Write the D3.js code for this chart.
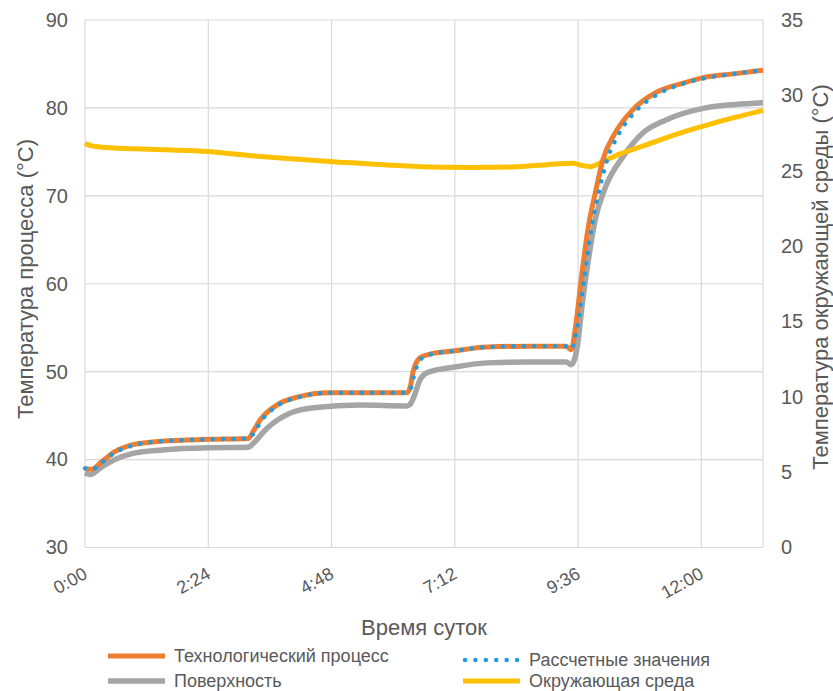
<!DOCTYPE html>
<html>
<head>
<meta charset="utf-8">
<script src="https://cdn.jsdelivr.net/npm/d3@7"></script>
<style>
html,body{margin:0;padding:0;background:#fff;}
text{font-family:"Liberation Sans",Arial,sans-serif;fill:#595959;}
</style>
</head>
<body>
<svg id="chart" width="833" height="691"></svg>
<script>
// ---- data (time in minutes since 0:00) ----
const xTicks = [0, 144, 288, 432, 576, 720];
const xTickLabels = ["0:00", "2:24", "4:48", "7:12", "9:36", "12:00"];
const leftTicks = [30, 40, 50, 60, 70, 80, 90];
const rightTicks = [0, 5, 10, 15, 20, 25, 30, 35];

const processTime = [0, 8, 20, 35, 56, 90, 144, 191, 197, 204.5, 224, 248, 286, 321, 376, 380, 383, 391.5, 403, 430, 470, 520, 562, 568, 573, 580.5, 588, 596, 605, 619, 640, 666, 698, 725, 760, 792];
const processValues = [39.0, 38.9, 39.8, 40.9, 41.7, 42.1, 42.3, 42.4, 43.3, 44.5, 46.2, 47.1, 47.6, 47.6, 47.6, 48.3, 49.9, 51.6, 52.0, 52.35, 52.8, 52.9, 52.9, 52.5, 55.1, 61.2, 66.5, 70.3, 74.1, 77.1, 79.8, 81.7, 82.8, 83.5, 83.9, 84.3];

const calcTime = [0, 8, 20, 35, 56, 90, 144, 191, 199, 206, 226, 250, 286, 321, 376, 381, 385, 393, 405, 430, 470, 520, 562, 568, 575, 584, 592, 600, 610, 624, 645, 670, 700, 725, 760, 792];
const calcValues = [39.0, 38.9, 39.7, 40.8, 41.6, 42.1, 42.3, 42.4, 43.3, 44.4, 46.2, 47.1, 47.6, 47.6, 47.6, 48.2, 49.8, 51.5, 52.0, 52.35, 52.8, 52.9, 52.9, 52.6, 55.0, 61.2, 66.5, 70.3, 74.1, 77.1, 79.8, 81.6, 82.8, 83.4, 83.9, 84.3];

const surfaceTime = [0, 6, 20, 35, 56, 90, 144, 191, 196, 213, 240, 267, 321, 376, 380, 384, 391.5, 400, 430, 470, 520, 562, 568, 575, 580.5, 588, 596, 608, 628, 651, 678, 725, 760, 792];
const surfaceValues = [38.5, 38.3, 39.2, 40.0, 40.7, 41.1, 41.35, 41.4, 41.8, 43.6, 45.3, 45.9, 46.2, 46.1, 46.3, 47.1, 49.1, 49.9, 50.5, 51.0, 51.1, 51.1, 50.8, 52.8, 57.4, 62.7, 67.3, 71.0, 74.4, 77.1, 78.6, 80.0, 80.4, 80.6];

const ambientTime = [0, 8, 17, 60, 142, 193, 240, 290, 392, 450, 500, 540, 570, 580, 590, 605, 622, 655, 695, 734, 792];
const ambientValues = [26.8, 26.65, 26.58, 26.45, 26.27, 26.0, 25.8, 25.6, 25.27, 25.22, 25.25, 25.4, 25.5, 25.35, 25.27, 25.6, 26.05, 26.7, 27.5, 28.15, 29.0];

const seriesNames = ["Технологический процесс", "Рассчетные значения", "Поверхность", "Окружающая среда"];

// ---- layout ----
const svg = d3.select("#chart");
const plot = {left: 85, right: 763, top: 20, bottom: 547.5};

const x = d3.scaleLinear().domain([0, 792]).range([plot.left, plot.right]);
const yL = d3.scaleLinear().domain([30, 90]).range([plot.bottom, plot.top]);
const yR = d3.scaleLinear().domain([0, 35]).range([plot.bottom, plot.top]);

const grid = svg.append("g");
grid.selectAll("line.h").data(leftTicks).join("line")
  .attr("x1", plot.left).attr("x2", plot.right)
  .attr("y1", d => yL(d)).attr("y2", d => yL(d))
  .attr("stroke", "#d9d9d9").attr("stroke-width", 1.2);
grid.selectAll("line.v").data(xTicks.concat([792])).join("line")
  .attr("y1", plot.top).attr("y2", plot.bottom)
  .attr("x1", d => x(d)).attr("x2", d => x(d))
  .attr("stroke", "#d9d9d9").attr("stroke-width", 1.2);

// axes via d3 axis generators, then styled
const axL = svg.append("g").attr("transform", `translate(${plot.left - 17},0)`)
  .call(d3.axisLeft(yL).tickValues(leftTicks).tickSize(0).tickPadding(0));
const axR = svg.append("g").attr("transform", `translate(${plot.right + 18},0)`)
  .call(d3.axisRight(yR).tickValues(rightTicks).tickSize(0).tickPadding(0));
const axB = svg.append("g").attr("transform", `translate(0,${plot.bottom})`)
  .call(d3.axisBottom(x).tickValues(xTicks).tickFormat((d, i) => xTickLabels[i]).tickSize(0));
[axL, axR, axB].forEach(a => { a.select(".domain").remove(); });
axL.selectAll("text").attr("font-size", 20).attr("fill", "#595959").attr("font-family", "Liberation Sans, Arial, sans-serif");
axR.selectAll("text").attr("font-size", 20).attr("fill", "#595959").attr("font-family", "Liberation Sans, Arial, sans-serif");
axB.selectAll("text")
  .attr("font-size", 18).attr("fill", "#595959").attr("font-family", "Liberation Sans, Arial, sans-serif")
  .attr("text-anchor", "end").attr("y", 0).attr("dy", 0)
  .attr("transform", "translate(3,30) rotate(-29)");

// lines
const lineL = d3.line().x(d => x(d[0])).y(d => yL(d[1])).curve(d3.curveMonotoneX);
const lineR = d3.line().x(d => x(d[0])).y(d => yR(d[1])).curve(d3.curveMonotoneX);
const zip = (a, b) => a.map((t, i) => [t, b[i]]);

svg.append("path").datum(zip(surfaceTime, surfaceValues)).attr("d", lineL)
  .attr("fill", "none").attr("stroke", "#a5a5a5").attr("stroke-width", 5.5).attr("stroke-linejoin", "round");
svg.append("path").datum(zip(ambientTime, ambientValues)).attr("d", lineR)
  .attr("fill", "none").attr("stroke", "#ffc000").attr("stroke-width", 5).attr("stroke-linejoin", "round");
svg.append("path").datum(zip(processTime, processValues)).attr("d", lineL)
  .attr("fill", "none").attr("stroke", "#ed7d31").attr("stroke-width", 5).attr("stroke-linejoin", "round");
svg.append("path").datum(zip(calcTime, calcValues)).attr("d", lineL)
  .attr("fill", "none").attr("stroke", "#1f9be0").attr("stroke-width", 4.4)
  .attr("stroke-linecap", "round").attr("stroke-dasharray", "0.1 10.3");

// axis titles
svg.append("text").attr("transform", "translate(33,279) rotate(-90)")
  .attr("text-anchor", "middle").attr("font-size", 22).text("Температура процесса (°C)");
svg.append("text").attr("transform", "translate(828,277) rotate(-90)")
  .attr("text-anchor", "middle").attr("font-size", 22).text("Температура окружающей среды (°C)");
svg.append("text").attr("x", 424).attr("y", 635)
  .attr("text-anchor", "middle").attr("font-size", 22).text("Время суток");

// legend
const legendItems = [
  {name: seriesNames[0], color: "#ed7d31", dash: null, w: 5, x: 108, y: 656},
  {name: seriesNames[1], color: "#1f9be0", dash: "0.1 10.3", w: 4.4, x: 463, y: 660},
  {name: seriesNames[2], color: "#a5a5a5", dash: null, w: 5.5, x: 108, y: 681},
  {name: seriesNames[3], color: "#ffc000", dash: null, w: 5, x: 463, y: 681}
];
const lg = svg.append("g").selectAll("g").data(legendItems).join("g")
  .attr("transform", d => `translate(${d.x},${d.y})`);
lg.append("line").attr("x1", d => d.dash ? 2 : 0).attr("x2", 57).attr("y1", 0).attr("y2", 0)
  .attr("stroke", d => d.color).attr("stroke-width", d => d.w)
  .attr("stroke-linecap", d => d.dash ? "round" : "butt")
  .attr("stroke-dasharray", d => d.dash);
lg.append("text").attr("x", 66).attr("y", 0).attr("dy", "0.35em")
  .attr("font-size", 18).text(d => d.name);
</script>
</body>
</html>
